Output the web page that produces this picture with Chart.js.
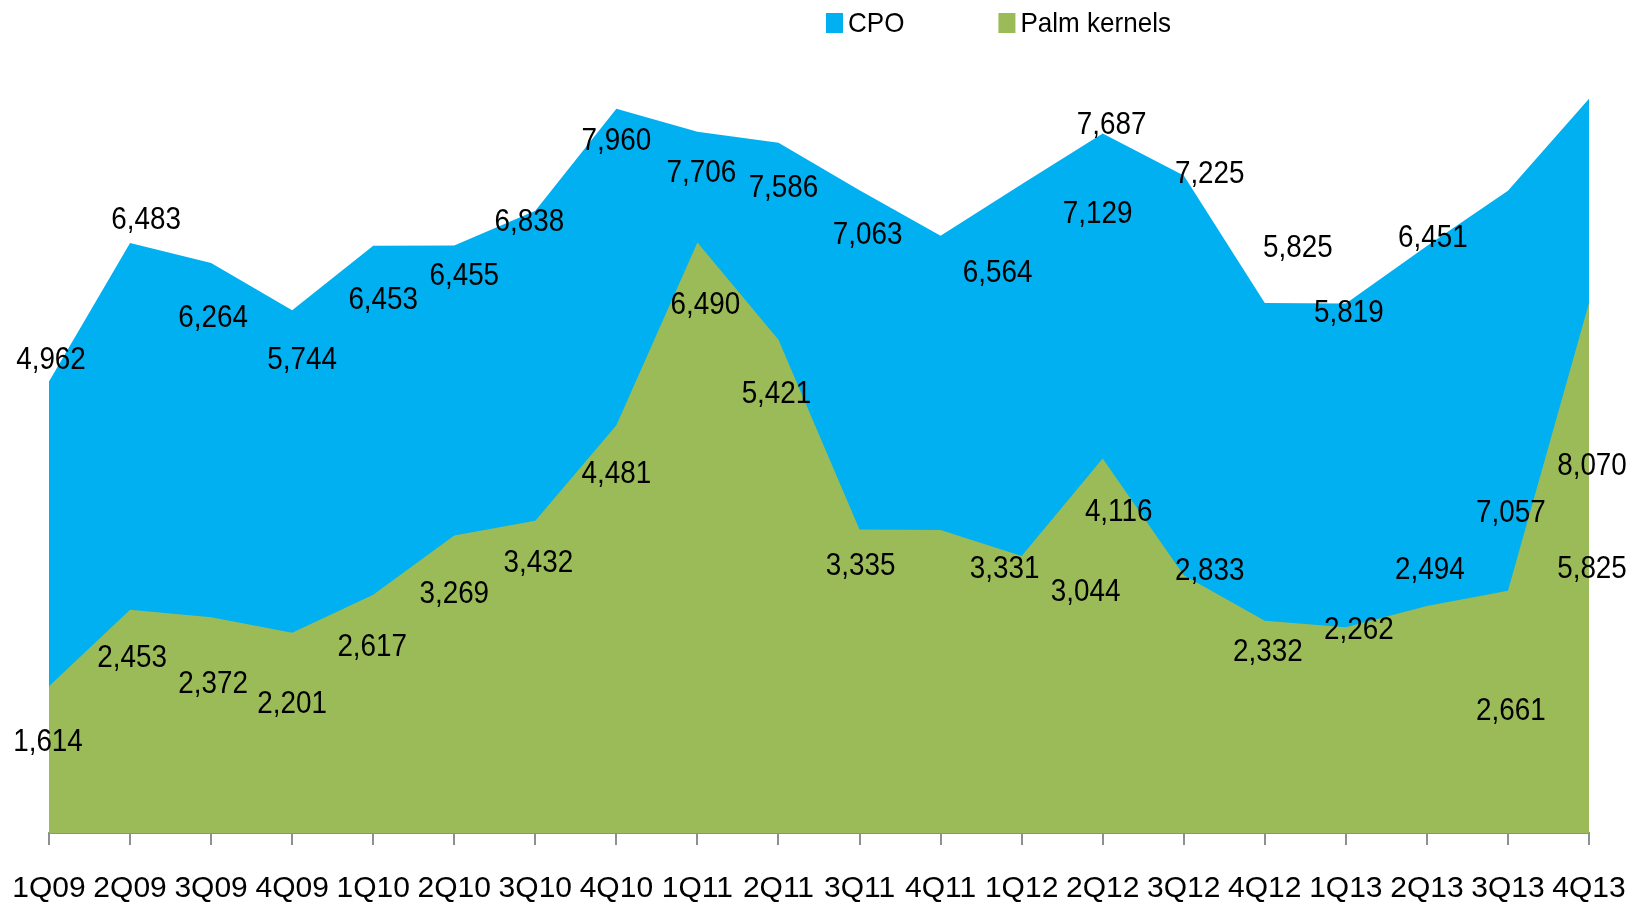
<!DOCTYPE html>
<html>
<head>
<meta charset="utf-8">
<title>CPO and palm kernels</title>
<script src="https://cdn.jsdelivr.net/npm/chart.js@4.4.1/dist/chart.umd.min.js"></script>
<style>
    html, body { margin: 0; padding: 0; background: #fff; }
    #wrap { position: relative; width: 1642px; height: 905px; }
</style>
</head>
<body>
<div id="wrap"><canvas id="palmChart"></canvas></div>
<script>
const quarters = ['1Q09', '2Q09', '3Q09', '4Q09', '1Q10', '2Q10', '3Q10', '4Q10', '1Q11', '2Q11',
    '3Q11', '4Q11', '1Q12', '2Q12', '3Q12', '4Q12', '1Q13', '2Q13', '3Q13', '4Q13'];

const cpo = [4962, 6483, 6264, 5744, 6453, 6455, 6838, 7960, 7706, 7586,
    7063, 6564, 7129, 7687, 7225, 5825, 5819, 6451, 7057, 8070];

const palmKernels = [1614, 2453, 2372, 2201, 2617, 3269, 3432, 4481, 6490, 5421,
    3335, 3331, 3044, 4116, 2833, 2332, 2262, 2494, 2661, 5825];

// where each value label sits relative to its point, in px [dx, dy]
const cpoLabelShift = [[2, -21], [16, -23], [2, 55], [10, 50], [10, 54], [10, 31], [-6, 11], [0, 33], [4, 41], [5, 45],
    [8, 45], [57, 37], [76, 30], [9, -8], [26, -1], [33, -55], [3, 10], [6, -8], [3, 322], [3, 368]];
const palmLabelShift = [[-1, 56], [2, 48], [2, 67], [0, 71], [-1, 52], [0, 59], [3, 42], [0, 49], [8, 63], [-2, 54],
    [1, 37], [64, 39], [64, 36], [16, 54], [26, -4], [3, 31], [13, 3], [3, -36], [3, 120], [3, 266]];

const FONT = "'Liberation Sans', Arial, sans-serif";

// text in the original is tall and narrow, squeeze it sideways
function narrowText(ctx, text, x, y, squeeze) {
    ctx.save();
    ctx.translate(x, y);
    ctx.scale(squeeze, 1);
    ctx.fillText(text, 0, 0);
    ctx.restore();
}

const valueLabels = {
    id: 'valueLabels',
    afterDatasetsDraw(chart) {
        const ctx = chart.ctx;
        ctx.save();
        ctx.fillStyle = '#000';
        ctx.font = '32px ' + FONT;
        ctx.textAlign = 'center';
        ctx.textBaseline = 'middle';
        chart.data.datasets.forEach((ds, di) => {
            const meta = chart.getDatasetMeta(di);
            meta.data.forEach((pt, i) => {
                const [dx, dy] = ds.labelShift[i];
                narrowText(ctx, ds.data[i].toLocaleString('en-US'), pt.x + dx, pt.y + dy, 0.87);
            });
        });
        ctx.restore();
    }
};

const topLegend = {
    id: 'topLegend',
    afterDraw(chart) {
        const ctx = chart.ctx;
        ctx.save();
        ctx.font = '28px ' + FONT;
        ctx.textBaseline = 'middle';
        ctx.textAlign = 'left';
        let x = 826;
        chart.data.datasets.forEach(ds => {
            ctx.fillStyle = ds.backgroundColor;
            ctx.fillRect(x, 13, 17, 20);
            ctx.fillStyle = '#000';
            narrowText(ctx, ds.label, x + 22, 24, 0.93);
            x += 22 + ctx.measureText(ds.label).width * 0.93 + 94;
        });
        ctx.restore();
    }
};

new Chart(document.getElementById('palmChart'), {
    type: 'line',
    data: {
        labels: quarters,
        datasets: [
            {
                label: 'CPO',
                data: cpo,
                labelShift: cpoLabelShift,
                backgroundColor: '#00B0F0',
                borderWidth: 0,
                pointRadius: 0,
                fill: 'origin',
                order: 2,
            },
            {
                label: 'Palm kernels',
                data: palmKernels,
                labelShift: palmLabelShift,
                backgroundColor: '#9BBB59',
                borderWidth: 0,
                pointRadius: 0,
                fill: 'origin',
                order: 1,
            },
        ],
    },
    options: {
        responsive: true,
        maintainAspectRatio: false,
        animation: false,
        layout: { padding: { top: 14, left: 49, right: 53, bottom: 0 } },
        plugins: {
            legend: { display: false },
            tooltip: { enabled: false },
        },
        scales: {
            x: {
                offset: false,
                grid: { drawOnChartArea: false, drawTicks: true, tickLength: 12, color: '#8f8f8f', lineWidth: 2 },
                border: { color: '#8f8f8f', width: 2 },
                ticks: {
                    color: '#000',
                    font: { family: FONT, size: 30, lineHeight: 2.2 },
                    padding: 11,
                    maxRotation: 0,
                    autoSkip: false,
                },
                afterFit: s => { s.height = 72; },
            },
            y: { display: false, min: 0, max: 9000 },
        },
    },
    plugins: [valueLabels, topLegend],
});
</script>
</body>
</html>
